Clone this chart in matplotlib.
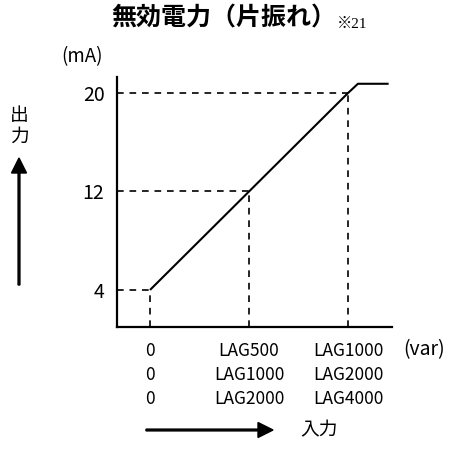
import matplotlib
matplotlib.use("Agg")
import matplotlib.pyplot as plt

plt.rcParams['font.family'] = ['Noto Sans CJK JP', 'DejaVu Sans']

# Data
line_x = [0, 1000, 1050, 1205]
line_y = [4, 20, 20.75, 20.75]
ref_x = [0, 500, 1000]
ref_y = [4, 12, 20]
ytick_labels = ["4", "12", "20"]
row1 = ["0", "LAG500", "LAG1000"]
row2 = ["0", "LAG1000", "LAG2000"]
row3 = ["0", "LAG2000", "LAG4000"]

W, H = 462, 450
fig = plt.figure(figsize=(W / 100, H / 100), dpi=100)

def px(x, y):
    return x / W, 1 - y / H

ax = fig.add_axes([117 / W, 1 - 327 / H, (392 - 117) / W, (327 - 77) / H])
ax.set_xlim(-166.7, 1222)
ax.set_ylim(0.99, 21.3)
for s in ['top', 'right']:
    ax.spines[s].set_visible(False)
for s in ['left', 'bottom']:
    ax.spines[s].set_linewidth(1.6)
    ax.spines[s].set_color('black')

dash = (0, (4, 3.5))
xmin = ax.get_xlim()[0]
ymin = ax.get_ylim()[0]
for xv, yv in zip(ref_x, ref_y):
    ax.plot([xmin, xv], [yv, yv], color='black', lw=1.2, linestyle=dash, clip_on=False)
    ax.plot([xv, xv], [ymin, yv], color='black', lw=1.2, linestyle=dash, clip_on=False)

ax.plot(line_x, line_y, color='black', lw=1.5, solid_capstyle='butt')

ax.set_yticks(ref_y)
ax.set_yticklabels(ytick_labels, fontsize=14)
ax.set_xticks(ref_x)
ax.set_xticklabels([f"{a}\n{b}\n{c}" for a, b, c in zip(row1, row2, row3)],
                   fontsize=12.5, linespacing=1.42)
ax.tick_params(axis='y', length=0, pad=9)
ax.tick_params(axis='x', length=0, pad=11)

# Unit labels
fig.text(*px(82, 57), "(mA)", ha='center', va='center', fontsize=13.5)
fig.text(*px(424, 350), "(var)", ha='center', va='center', fontsize=14)

# Title
fig.text(*px(224, 19), "無効電力（片振れ）", ha='center', va='center',
         fontsize=18, fontweight='bold')
fig.text(*px(337, 28), "※21", ha='left', va='baseline', fontsize=11,
         family=['Liberation Serif', 'Noto Sans CJK JP'])

# Axis direction arrows
fig.text(*px(19, 115), "出", ha='center', va='center', fontsize=13.5)
fig.text(*px(19, 136), "力", ha='center', va='center', fontsize=13.5)
fig.patches.append(matplotlib.patches.FancyArrow(
    *px(19, 285), 0, (285 - 158) / H, width=1.8 / H, head_width=15 / W,
    head_length=15 / H, length_includes_head=True, color='black',
    transform=fig.transFigure, figure=fig))
fig.patches.append(matplotlib.patches.FancyArrow(
    *px(146, 430), (273 - 146) / W, 0, width=1.8 / H, head_width=15 / H,
    head_length=15 / W, length_includes_head=True, color='black',
    transform=fig.transFigure, figure=fig))
fig.text(*px(300, 430), "入力", ha='left', va='center', fontsize=13.5)

fig.savefig("out.png", dpi=100)
